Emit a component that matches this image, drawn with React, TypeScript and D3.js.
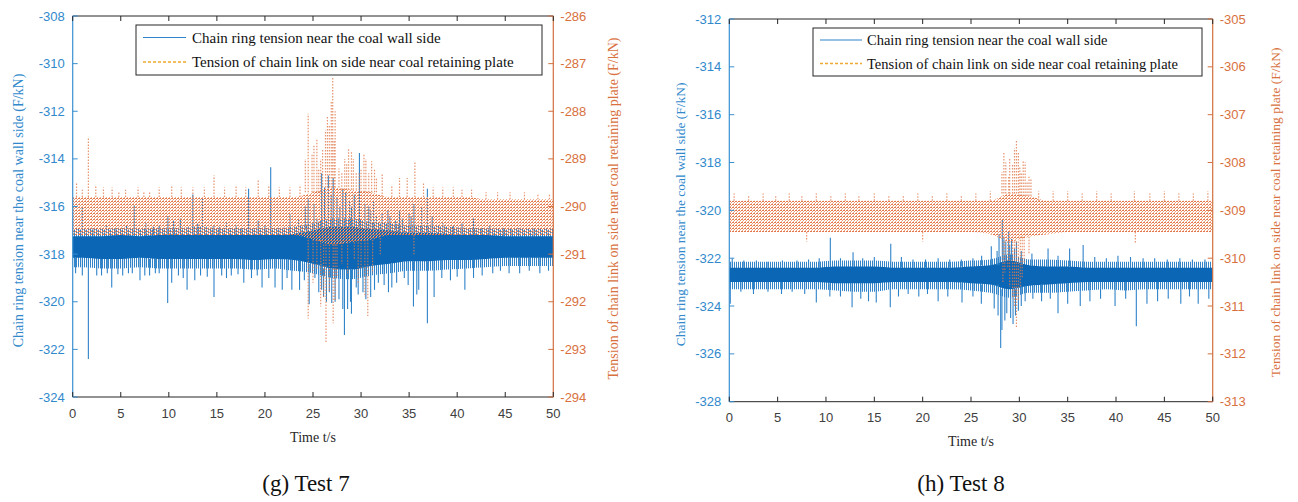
import React from 'react';
import * as d3 from 'd3';

// ---------- shared ticks ----------
const timeTicks = [0, 5, 10, 15, 20, 25, 30, 35, 40, 45, 50];
const t7LeftTicks = [-308, -310, -312, -314, -316, -318, -320, -322, -324];
const t7RightTicks = [-286, -287, -288, -289, -290, -291, -292, -293, -294];
const t8LeftTicks = [-312, -314, -316, -318, -320, -322, -324, -326, -328];
const t8RightTicks = [-305, -306, -307, -308, -309, -310, -311, -312, -313];

// band bins: 2-second bins starting at these times
const binStarts = [0, 2, 4, 6, 8, 10, 12, 14, 16, 18, 20, 22, 24, 26, 28, 30, 32, 34, 36, 38, 40, 42, 44, 46, 48];

// ---------- Test 7: chain ring near coal wall side (left axis) ----------
const t7BlueCoreHi = [-317.25, -317.25, -317.2, -317.25, -317.2, -317.2, -317.2, -317.2, -317.2, -317.2, -317.2, -317.15, -317.0, -316.85, -316.85, -316.95, -317.0, -317.1, -317.1, -317.15, -317.2, -317.2, -317.25, -317.25, -317.25];
const t7BlueCoreLo = [-318.15, -318.2, -318.2, -318.15, -318.2, -318.2, -318.2, -318.2, -318.2, -318.25, -318.2, -318.25, -318.4, -318.6, -318.65, -318.5, -318.4, -318.3, -318.3, -318.25, -318.25, -318.2, -318.15, -318.15, -318.15];
const t7BlueOuterHi = [-316.95, -316.95, -316.9, -316.95, -316.9, -316.9, -316.85, -316.9, -316.9, -316.9, -316.9, -316.85, -316.7, -316.5, -316.5, -316.65, -316.7, -316.8, -316.8, -316.85, -316.9, -316.9, -316.95, -316.95, -316.95];
const t7BlueOuterLo = [-318.55, -318.6, -318.6, -318.55, -318.6, -318.6, -318.6, -318.6, -318.6, -318.65, -318.6, -318.7, -318.8, -319.0, -319.05, -318.9, -318.8, -318.7, -318.7, -318.65, -318.6, -318.55, -318.5, -318.5, -318.5];
const t7BlueSpikes: [number, number][] = [
  [1.0, -316.0], [2.1, -316.9], [3.5, -316.8], [4.5, -316.9], [5.6, -316.8], [6.4, -315.95], [7.6, -316.7], [8.4, -316.85], [9.0, -316.8], [9.9, -316.4], [10.5, -316.6], [11.2, -316.5],
  [12.5, -315.5], [13.0, -316.7], [13.5, -315.65], [14.7, -316.8], [15.3, -316.85], [16.0, -316.7], [17.0, -316.8], [17.6, -316.9], [18.3, -315.25], [19.3, -316.6], [20.0, -316.8], [20.6, -314.35],
  [21.6, -316.9], [22.6, -316.3], [23.5, -316.5], [24.2, -316.0], [24.5, -315.65], [25.1, -315.9], [25.4, -316.5], [25.9, -314.6], [26.2, -315.2], [26.6, -314.7], [26.9, -315.5], [27.1, -314.8],
  [27.5, -315.6], [27.8, -316.0], [28.1, -315.25], [28.4, -315.4], [28.8, -315.8], [29.0, -316.0], [29.3, -315.5], [29.83, -313.75], [30.4, -315.9], [30.8, -316.0], [31.0, -316.2], [31.3, -315.8], [31.6, -316.4],
  [32.2, -316.3], [32.8, -316.15], [33.0, -316.4], [33.6, -316.6], [34.0, -316.2], [34.3, -316.5], [35.0, -316.3], [35.2, -316.4], [35.5, -315.9], [36.3, -316.0], [36.9, -315.25],
  [37.4, -316.4], [38.5, -316.7], [39.6, -316.8], [40.5, -316.7], [41.7, -316.5], [42.5, -316.9], [43.4, -316.8], [44.8, -316.9], [45.6, -316.95], [46.4, -316.9],
  [48.0, -316.9], [49.3, -317.0],
  [0.3, -318.8], [1.0, -318.9], [1.63, -322.4], [2.5, -318.9], [3.0, -318.9], [3.6, -318.8], [4.06, -319.4], [4.7, -318.85], [5.2, -318.9], [5.8, -318.8], [6.2, -318.8], [7.0, -319.1], [7.5, -318.9], [8.0, -318.9],
  [8.6, -318.8], [9.0, -318.8], [9.88, -320.05], [10.3, -319.2], [11.0, -318.9], [11.5, -319.0], [11.9, -319.5], [12.7, -319.1], [13.3, -318.9], [14.0, -318.95], [14.7, -319.8],
  [15.5, -318.9], [16.0, -319.0], [16.5, -318.9], [17.2, -318.85], [17.8, -319.2], [18.6, -319.0], [19.2, -318.9], [19.7, -319.4], [20.4, -319.0], [21.05, -319.4], [21.8, -319.5], [22.3, -319.0], [22.8, -319.5],
  [23.6, -319.5], [24.1, -319.1], [24.6, -320.1], [25.2, -319.0], [25.6, -319.6], [25.9, -319.5], [26.1, -319.8], [26.4, -320.0], [26.7, -319.6], [26.95, -320.05], [27.3, -320.0], [27.7, -319.9], [28.1, -320.3], [28.27, -321.4],
  [28.6, -320.3], [28.9, -320.0], [29.0, -320.5], [29.5, -319.4], [29.7, -319.7], [30.2, -319.6], [30.5, -319.9], [31.0, -319.8], [31.4, -319.5], [31.8, -319.2], [32.4, -319.3], [32.85, -319.6], [33.2, -319.4], [33.7, -319.2],
  [34.5, -319.0], [34.9, -319.3], [35.45, -320.2], [35.8, -319.7], [36.0, -319.5], [36.9, -320.9], [37.6, -319.8], [38.4, -319.0], [39.3, -319.1], [40.0, -318.95], [40.8, -319.5],
  [41.7, -319.0], [42.6, -318.9], [43.7, -318.8], [44.5, -318.7], [45.4, -318.8], [46.5, -318.8], [47.5, -318.7], [48.6, -318.8], [49.5, -318.7],
];

// ---------- Test 7: chain link near coal retaining plate (right axis) ----------
const t7OrangeCoreHi = [-289.8, -289.8, -289.8, -289.8, -289.8, -289.8, -289.8, -289.8, -289.8, -289.8, -289.8, -289.8, -289.7, -289.6, -289.65, -289.7, -289.8, -289.8, -289.8, -289.8, -289.8, -289.85, -289.85, -289.85, -289.85];
const t7OrangeCoreLo = [-290.6, -290.6, -290.6, -290.6, -290.6, -290.6, -290.6, -290.6, -290.6, -290.6, -290.6, -290.6, -290.7, -290.8, -290.75, -290.7, -290.6, -290.6, -290.6, -290.6, -290.6, -290.6, -290.6, -290.6, -290.6];
const t7OrangeSpikes: [number, number][] = [
  [0.4, -289.5], [1.0, -289.65], [1.63, -288.55], [2.4, -289.55], [3.2, -289.6], [4.1, -289.6], [4.8, -289.7], [5.5, -289.65], [6.8, -289.6], [7.4, -289.7], [8.0, -289.7], [9.0, -289.6],
  [10.3, -289.55], [11.3, -289.6], [12.5, -289.6], [13.7, -289.6], [14.7, -289.35], [15.8, -289.6], [17.0, -289.55], [18.0, -289.6],
  [19.3, -289.45], [20.4, -289.55], [21.5, -289.6], [22.6, -289.6], [23.65, -289.55], [24.2, -289.0], [24.5, -288.05], [24.9, -288.9], [25.1, -288.7], [25.4, -288.6], [25.6, -289.2],
  [25.8, -289.0], [26.0, -288.8], [26.3, -288.4], [26.5, -288.1], [26.7, -288.3], [26.9, -287.8], [27.05, -287.3], [27.2, -288.6], [27.3, -288.0], [27.7, -289.2], [28.0, -289.3], [28.3, -289.0], [28.5, -289.1], [28.7, -288.8],
  [29.0, -288.85], [29.2, -289.0], [29.5, -289.3], [29.8, -289.3], [30.0, -289.2], [30.3, -288.9], [30.5, -289.0], [30.8, -289.3], [31.1, -289.05], [31.4, -289.2], [31.6, -289.4], [32.2, -289.3], [33.2, -289.55],
  [34.0, -289.4], [34.8, -289.4], [35.6, -289.05], [36.5, -289.5], [37.5, -289.6], [38.5, -289.6], [39.6, -289.6], [40.5, -289.65],
  [41.5, -289.65], [43.0, -289.7], [44.2, -289.7], [45.5, -289.7], [47.0, -289.7], [48.4, -289.75], [49.6, -289.75],
  [24.5, -292.35], [25.0, -291.6], [25.4, -291.3], [25.8, -292.1], [26.1, -291.9], [26.35, -292.85], [26.7, -291.8], [27.1, -292.45], [27.3, -292.0], [27.5, -291.5], [28.0, -291.2], [28.6, -291.4],
  [29.3, -291.1], [29.7, -291.6], [30.0, -291.3], [30.4, -291.9], [30.7, -292.3], [31.2, -291.4], [32.0, -291.0], [35.5, -291.0],
];

// ---------- Test 8: chain ring near coal wall side (left axis) ----------
const t8BlueCoreHi = [-322.4, -322.4, -322.4, -322.4, -322.4, -322.35, -322.35, -322.35, -322.4, -322.4, -322.4, -322.4, -322.35, -322.3, -322.1, -322.3, -322.35, -322.35, -322.4, -322.4, -322.4, -322.4, -322.4, -322.4, -322.4];
const t8BlueCoreLo = [-323.0, -323.0, -323.0, -323.0, -323.0, -323.05, -323.05, -323.05, -323.0, -323.0, -323.0, -323.0, -323.05, -323.1, -323.3, -323.15, -323.1, -323.05, -323.0, -323.0, -323.0, -323.0, -323.0, -323.0, -323.0];
const t8BlueOuterHi = [-322.15, -322.15, -322.15, -322.15, -322.15, -322.1, -322.1, -322.1, -322.15, -322.15, -322.15, -322.15, -322.1, -322.05, -321.85, -322.05, -322.05, -322.1, -322.15, -322.15, -322.15, -322.15, -322.15, -322.15, -322.15];
const t8BlueOuterLo = [-323.3, -323.3, -323.3, -323.3, -323.3, -323.35, -323.4, -323.4, -323.3, -323.3, -323.3, -323.3, -323.35, -323.45, -323.65, -323.45, -323.45, -323.4, -323.35, -323.3, -323.35, -323.3, -323.3, -323.3, -323.3];
const t8BlueSpikes: [number, number][] = [
  [0.3, -322.0], [1.5, -322.1], [2.8, -322.1], [4.0, -322.15], [5.5, -322.1], [7.0, -322.1], [8.2, -322.05], [9.3, -322.0], [10.45, -321.15],
  [11.5, -322.0], [12.8, -321.75], [13.8, -322.0], [15.0, -321.95], [16.7, -321.4], [17.8, -321.95], [19.0, -322.05], [20.3, -322.05],
  [21.6, -322.0], [22.8, -322.05], [24.0, -322.05], [25.2, -322.0], [26.1, -321.9], [27.1, -321.5], [27.7, -321.7], [27.9, -321.0], [28.24, -320.4], [28.4, -321.1],
  [28.6, -321.3], [28.9, -320.9], [29.0, -321.45], [29.2, -321.2], [29.5, -321.6], [29.7, -321.3], [30.2, -321.7], [31.3, -321.8], [32.97, -321.6], [34.0, -321.9], [35.2, -321.6],
  [36.6, -321.45], [37.8, -321.95], [39.0, -322.0], [40.2, -321.9], [41.5, -321.95], [42.8, -322.0], [44.0, -322.0], [45.3, -322.05],
  [46.6, -322.0], [47.9, -322.05], [49.2, -322.05],
  [0.1, -323.9], [1.2, -323.4], [2.5, -323.5], [4.0, -323.4], [5.4, -323.5], [6.5, -323.4], [7.8, -323.5], [9.0, -323.85], [10.4, -323.6],
  [11.5, -323.6], [12.7, -324.05], [13.6, -323.7], [14.4, -323.8], [15.2, -323.85], [16.65, -324.05], [17.5, -323.6], [18.5, -323.5],
  [19.6, -323.6], [20.5, -323.5], [21.6, -323.8], [22.6, -323.6], [24.07, -323.85], [25.2, -323.6], [26.07, -323.9], [27.4, -324.1], [27.8, -324.4],
  [28.07, -325.75], [28.2, -325.0], [28.5, -324.6], [28.7, -324.3], [29.1, -324.5], [29.35, -324.75], [29.6, -324.4], [29.9, -324.2], [30.2, -324.0], [30.6, -323.8], [31.4, -323.7], [32.3, -323.8], [33.2, -323.7],
  [34.0, -324.3], [35.0, -323.9], [36.3, -324.0], [37.3, -323.8], [38.4, -323.7], [39.9, -324.0], [41.0, -323.7], [42.1, -324.85],
  [43.2, -323.9], [44.3, -323.8], [45.4, -323.7], [46.7, -323.9], [47.6, -323.6], [48.5, -323.9], [49.6, -323.7],
];

// ---------- Test 8: chain link near coal retaining plate (right axis) ----------
const t8OrangeCoreHi = [-308.8, -308.8, -308.8, -308.8, -308.8, -308.8, -308.8, -308.8, -308.8, -308.8, -308.8, -308.8, -308.8, -308.8, -308.65, -308.7, -308.8, -308.8, -308.8, -308.8, -308.8, -308.8, -308.8, -308.8, -308.8];
const t8OrangeCoreLo = [-309.45, -309.45, -309.45, -309.45, -309.45, -309.45, -309.45, -309.45, -309.45, -309.45, -309.45, -309.45, -309.45, -309.5, -309.65, -309.55, -309.5, -309.45, -309.45, -309.45, -309.45, -309.45, -309.45, -309.45, -309.45];
const t8OrangeSpikes: [number, number][] = [
  [0.5, -308.65], [2.0, -308.7], [3.5, -308.65], [4.8, -308.7], [6.2, -308.65], [7.5, -308.7], [9.0, -308.65], [10.5, -308.7],
  [12.0, -308.65], [13.4, -308.7], [15.0, -308.65], [16.5, -308.7], [18.0, -308.7], [19.5, -308.65], [21.0, -308.7], [22.5, -308.65],
  [24.0, -308.7], [25.5, -308.65], [27.0, -308.6], [28.2, -308.2], [28.4, -307.8], [28.6, -308.0], [28.9, -308.3], [29.0, -307.9], [29.3, -308.05], [29.5, -307.7], [29.7, -307.55], [29.9, -307.8], [30.05, -308.1],
  [30.2, -308.2], [30.4, -307.95], [30.6, -308.0], [30.8, -308.4], [31.0, -308.3], [31.2, -308.35], [32.0, -308.6], [33.5, -308.6], [35.0, -308.6], [36.5, -308.65], [38.0, -308.6],
  [39.5, -308.65], [41.9, -308.6], [43.5, -308.65], [45.0, -308.6], [46.5, -308.65], [48.0, -308.65], [49.5, -308.6],
  [28.3, -310.5], [28.5, -310.3], [28.8, -310.2], [29.0, -310.6], [29.3, -310.85], [29.5, -311.0], [29.7, -311.45], [29.9, -310.9], [30.1, -310.6], [30.3, -310.4], [30.5, -310.1], [31.0, -309.9], [42.0, -309.7],
  [20.0, -309.65], [8.0, -309.65],
];

const legendLabels = ['Chain ring tension near the coal wall side', 'Tension of chain link on side near coal retaining plate'];
const leftTitle = 'Chain ring tension near the coal wall side (F/kN)';
const rightTitle = 'Tension of chain link on side near coal retaining plate (F/kN)';

const BLUE_TXT = '#3189cc';
const ORANGE_TXT = '#d8713e';
const SANS = '"Liberation Sans", Arial, Helvetica, sans-serif';
const SERIF = '"Liberation Serif", "Times New Roman", Times, serif';

type Geo = {
  id: string; x0: number; x1: number; y0: number; y1: number;
  leftTitleX: number; rightTitleX: number; titleSize: number;
  legend: { x: number; y: number; w: number; h: number; fs: number; sx: number; sw: number; tx: number; r1: number; r2: number };
  caption: string; captionX: number;
};

type PanelProps = {
  g: Geo; lTicks: number[]; rTicks: number[];
  bCoreHi: number[]; bCoreLo: number[]; bOutHi: number[]; bOutLo: number[]; bSpikes: [number, number][];
  oCoreHi: number[]; oCoreLo: number[]; oSpikes: [number, number][];
};

type BandPt = { t: number; hi: number; lo: number };

function Panel({ g, lTicks, rTicks, bCoreHi, bCoreLo, bOutHi, bOutLo, bSpikes, oCoreHi, oCoreLo, oSpikes }: PanelProps) {
  const x = d3.scaleLinear().domain([0, 50]).range([g.x0, g.x1]);
  const yl = d3.scaleLinear().domain([lTicks[lTicks.length - 1], lTicks[0]]).range([g.y1, g.y0]);
  const yr = d3.scaleLinear().domain([rTicks[rTicks.length - 1], rTicks[0]]).range([g.y1, g.y0]);

  // band samples placed at bin centres, plus the two edges of the time axis
  const bandPts = (hi: number[], lo: number[]): BandPt[] => {
    const pts: BandPt[] = [{ t: 0, hi: hi[0], lo: lo[0] }];
    binStarts.forEach((t, i) => pts.push({ t: t + 1, hi: hi[i], lo: lo[i] }));
    pts.push({ t: 50, hi: hi[hi.length - 1], lo: lo[lo.length - 1] });
    return pts;
  };
  const mkArea = (ys: d3.ScaleLinear<number, number>) =>
    d3.area<BandPt>().x((d) => x(d.t)).y0((d) => ys(d.lo)).y1((d) => ys(d.hi)).curve(d3.curveMonotoneX);

  const areaL = mkArea(yl);
  const areaR = mkArea(yr);
  const binOf = (t: number) => Math.min(binStarts.length - 1, Math.floor(t / 2));

  const spikeLines = (spikes: [number, number][], hi: number[], lo: number[], ys: d3.ScaleLinear<number, number>) =>
    spikes.map(([t, v]) => {
      const i = binOf(t);
      const mid = (hi[i] + lo[i]) / 2;
      const base = v > mid ? hi[i] : lo[i];
      return { x: x(t), ya: ys(base), yb: ys(v) };
    });

  const bLines = spikeLines(bSpikes, bCoreHi, bCoreLo, yl);
  const oLines = spikeLines(oSpikes, oCoreHi, oCoreLo, yr);
  const pid = `dots-${g.id}`;
  const hid = `hair-${g.id}`;
  const clip = `clip-${g.id}`;
  const L = g.legend;

  return (
    <g>
      <defs>
        <pattern id={pid} width={3} height={3} patternUnits="userSpaceOnUse">
          <rect x={0} y={0} width={2} height={1} fill="#e4784a" />
          <rect x={2} y={1} width={1} height={1} fill="#ec9a74" />
          <rect x={1} y={2} width={1} height={1} fill="#f0ae90" />
        </pattern>
        <pattern id={hid} width={2} height={4} patternUnits="userSpaceOnUse">
          <rect x={0} y={0} width={1} height={4} fill="#3584c8" />
        </pattern>
        <clipPath id={clip}>
          <rect x={g.x0} y={g.y0} width={g.x1 - g.x0} height={g.y1 - g.y0} />
        </clipPath>
      </defs>
      <g clipPath={`url(#${clip})`}>
        {/* blue series */}
        <path d={areaL(bandPts(bOutHi, bOutLo)) || ''} fill={`url(#${hid})`} />
        <path d={areaL(bandPts(bCoreHi, bCoreLo)) || ''} fill="#0b67b5" />
        {bLines.map((l, i) => (
          <line key={`b${i}`} x1={l.x} x2={l.x} y1={l.ya} y2={l.yb} stroke="#2f83c9" strokeWidth={1.1} />
        ))}
        {/* orange series */}
        <path d={areaR(bandPts(oCoreHi, oCoreLo)) || ''} fill={`url(#${pid})`} />
        {oLines.map((l, i) => (
          <line key={`o${i}`} x1={l.x} x2={l.x} y1={l.ya} y2={l.yb} stroke="#e27a4b" strokeWidth={1.2} strokeDasharray="1.5,1.5" opacity={0.8} />
        ))}
      </g>

      {/* frame */}
      <line x1={g.x0} x2={g.x1} y1={g.y0} y2={g.y0} stroke="#262626" strokeWidth={1} />
      <line x1={g.x0} x2={g.x1} y1={g.y1} y2={g.y1} stroke="#262626" strokeWidth={1} />
      <line x1={g.x0} x2={g.x0} y1={g.y0} y2={g.y1} stroke="#3a8fd0" strokeWidth={1.2} />
      <line x1={g.x1} x2={g.x1} y1={g.y0} y2={g.y1} stroke="#d2703f" strokeWidth={1.2} />

      {/* x ticks */}
      {timeTicks.map((t) => (
        <g key={`xt${t}`}>
          <line x1={x(t)} x2={x(t)} y1={g.y1} y2={g.y1 - 5} stroke="#262626" />
          <line x1={x(t)} x2={x(t)} y1={g.y0} y2={g.y0 + 5} stroke="#262626" />
          <text x={x(t)} y={g.y1 + 16} textAnchor="middle" dominantBaseline="central" fontFamily={SANS} fontSize={13} fill="#404040">{t}</text>
        </g>
      ))}
      {/* left ticks */}
      {lTicks.map((v) => (
        <g key={`lt${v}`}>
          <line x1={g.x0} x2={g.x0 + 5} y1={yl(v)} y2={yl(v)} stroke="#3a8fd0" />
          <text x={g.x0 - 8} y={yl(v)} textAnchor="end" dominantBaseline="central" fontFamily={SANS} fontSize={13} fill={BLUE_TXT}>{v}</text>
        </g>
      ))}
      {/* right ticks */}
      {rTicks.map((v) => (
        <g key={`rt${v}`}>
          <line x1={g.x1} x2={g.x1 - 5} y1={yr(v)} y2={yr(v)} stroke="#d2703f" />
          <text x={g.x1 + 7} y={yr(v)} textAnchor="start" dominantBaseline="central" fontFamily={SANS} fontSize={13} fill={ORANGE_TXT}>{v}</text>
        </g>
      ))}

      {/* axis titles */}
      <text transform={`translate(${g.leftTitleX},${(g.y0 + g.y1) / 2 + 4}) rotate(-90)`} textAnchor="middle" dominantBaseline="central"
        fontFamily={SERIF} fontSize={g.titleSize} fill={BLUE_TXT}>{leftTitle}</text>
      <text transform={`translate(${g.rightTitleX},${(g.y0 + g.y1) / 2 + 2}) rotate(-90)`} textAnchor="middle" dominantBaseline="central"
        fontFamily={SERIF} fontSize={g.titleSize} fill={ORANGE_TXT}>{rightTitle}</text>
      <text x={(g.x0 + g.x1) / 2} y={g.y1 + 40} textAnchor="middle" dominantBaseline="central" fontFamily={SERIF} fontSize={14} fill="#262626">Time t/s</text>
      <text x={g.captionX} y={483} textAnchor="middle" dominantBaseline="central" fontFamily={SERIF} fontSize={23} fill="#111">{g.caption}</text>

      {/* legend */}
      <rect x={L.x} y={L.y} width={L.w} height={L.h} fill="#fff" stroke="#262626" strokeWidth={1} />
      <line x1={L.sx} x2={L.sx + L.sw} y1={L.r1} y2={L.r1} stroke="#2f83c9" strokeWidth={1.2} />
      <line x1={L.sx} x2={L.sx + L.sw} y1={L.r2} y2={L.r2} stroke="#f0a832" strokeWidth={1.4} strokeDasharray="3,2" />
      <text x={L.tx} y={L.r1} dominantBaseline="central" fontFamily={SERIF} fontSize={L.fs} fill="#111">{legendLabels[0]}</text>
      <text x={L.tx} y={L.r2} dominantBaseline="central" fontFamily={SERIF} fontSize={L.fs} fill="#111">{legendLabels[1]}</text>
    </g>
  );
}

const geo7: Geo = {
  id: 'g7', x0: 72.7, x1: 553.3, y0: 16, y1: 397, leftTitleX: 18, rightTitleX: 613, titleSize: 14,
  legend: { x: 136, y: 25, w: 406, h: 50, fs: 15, sx: 143, sw: 43, tx: 192, r1: 37.5, r2: 62 },
  caption: '(g) Test 7', captionX: 306,
};
const geo8: Geo = {
  id: 'g8', x0: 729.3, x1: 1212.7, y0: 19, y1: 401.7, leftTitleX: 680, rightTitleX: 1275, titleSize: 13.5,
  legend: { x: 813, y: 28, w: 389, h: 48, fs: 14.5, sx: 820, sw: 42, tx: 867, r1: 40, r2: 63.5 },
  caption: '(h) Test 8', captionX: 961,
};

export default function App() {
  return (
    <svg width={1298} height={502} style={{ position: 'absolute', left: 0, top: 0, background: '#fff' }}>
      <rect x={0} y={0} width={1298} height={502} fill="#fff" />
      <Panel g={geo7} lTicks={t7LeftTicks} rTicks={t7RightTicks}
        bCoreHi={t7BlueCoreHi} bCoreLo={t7BlueCoreLo} bOutHi={t7BlueOuterHi} bOutLo={t7BlueOuterLo} bSpikes={t7BlueSpikes}
        oCoreHi={t7OrangeCoreHi} oCoreLo={t7OrangeCoreLo} oSpikes={t7OrangeSpikes} />
      <Panel g={geo8} lTicks={t8LeftTicks} rTicks={t8RightTicks}
        bCoreHi={t8BlueCoreHi} bCoreLo={t8BlueCoreLo} bOutHi={t8BlueOuterHi} bOutLo={t8BlueOuterLo} bSpikes={t8BlueSpikes}
        oCoreHi={t8OrangeCoreHi} oCoreLo={t8OrangeCoreLo} oSpikes={t8OrangeSpikes} />
    </svg>
  );
}
